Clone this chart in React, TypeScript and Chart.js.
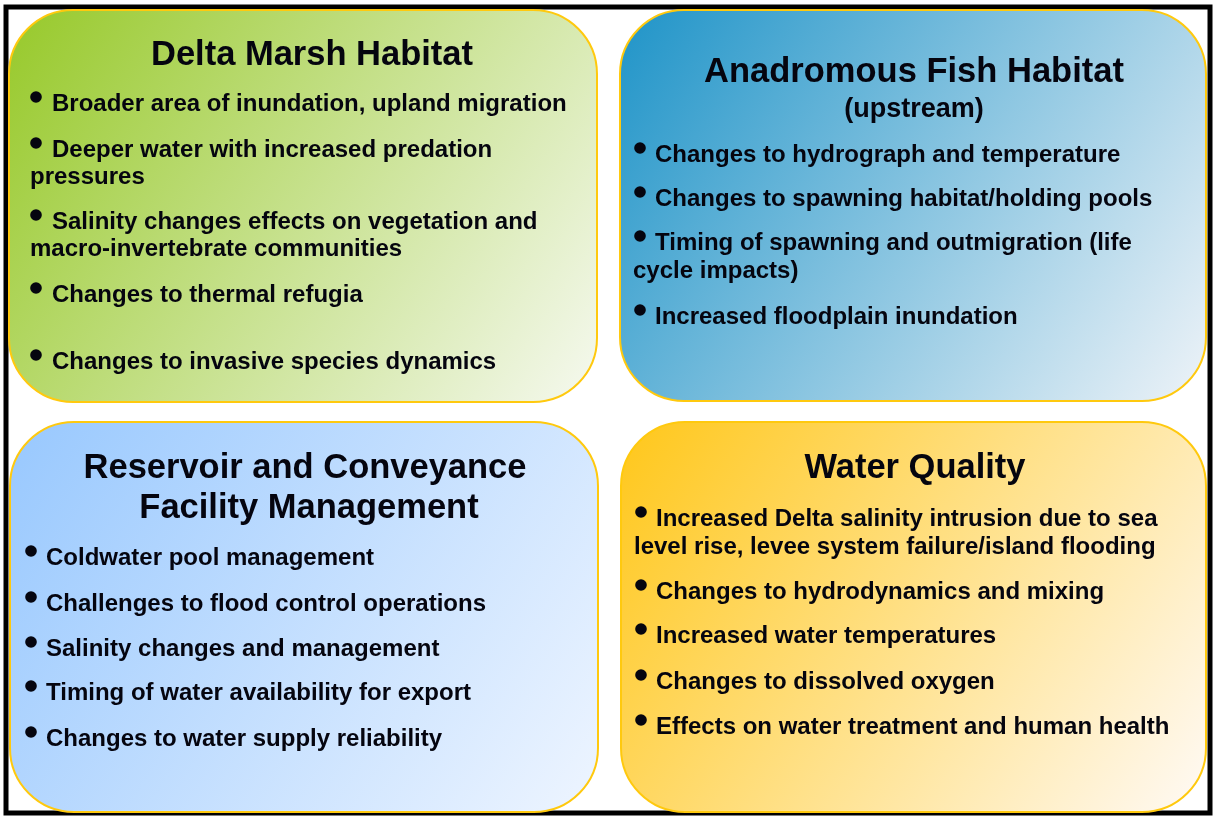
import { useEffect, useRef } from "react";
import { Chart, registerables } from "chart.js";
Chart.register(...registerables);

const W = 1214;
const H = 816;

const panelTitles: string[][] = [
  ["Delta Marsh Habitat"],
  ["Anadromous Fish Habitat"],
  ["Reservoir and Conveyance", "Facility Management"],
  ["Water Quality"],
];
const panelSubtitles: string[] = ["", "(upstream)", "", ""];

const deltaMarshBullets: string[][] = [
  ["Broader area of inundation, upland migration"],
  ["Deeper water with increased predation", "pressures"],
  ["Salinity changes effects on vegetation and", "macro-invertebrate communities"],
  ["Changes to thermal refugia"],
  ["Changes to invasive species dynamics"],
];
const anadromousFishBullets: string[][] = [
  ["Changes to hydrograph and temperature"],
  ["Changes to spawning habitat/holding pools"],
  ["Timing of spawning and outmigration (life", "cycle impacts)"],
  ["Increased floodplain inundation"],
];
const reservoirBullets: string[][] = [
  ["Coldwater pool management"],
  ["Challenges to flood control operations"],
  ["Salinity changes and management"],
  ["Timing of water availability for export"],
  ["Changes to water supply reliability"],
];
const waterQualityBullets: string[][] = [
  ["Increased Delta salinity intrusion due to sea", "level rise, levee system failure/island flooding"],
  ["Changes to hydrodynamics and mixing"],
  ["Increased water temperatures"],
  ["Changes to dissolved oxygen"],
  ["Effects on water treatment and human health"],
];
const panelBullets = [deltaMarshBullets, anadromousFishBullets, reservoirBullets, waterQualityBullets];

// layout (positions/styles), in a 0..W / 0..H coordinate space mapped through the chart scales
const panelLayout = [
  { x0: 9, y0: 10, x1: 597, y1: 402, c0: "#97c92a", c1: "#f6f9f0", titleX: [312], titleY: [53], subY: 0,
    bulletX: 36, textX: 52, wrapX: 30, lineY: [[102], [148, 175], [220, 247], [293], [360]] },
  { x0: 620, y0: 10, x1: 1206, y1: 401, c0: "#1f94c8", c1: "#eef3f8", titleX: [914], titleY: [70], subY: 108,
    bulletX: 640, textX: 655, wrapX: 633, lineY: [[153], [197], [241, 269], [315]] },
  { x0: 10, y0: 422, x1: 598, y1: 812, c0: "#98c8fe", c1: "#eef5ff", titleX: [305, 309], titleY: [466, 506], subY: 0,
    bulletX: 31, textX: 46, wrapX: 24, lineY: [[556], [602], [647], [691], [737]] },
  { x0: 621, y0: 422, x1: 1206, y1: 812, c0: "#ffc71a", c1: "#fffaf6", titleX: [915], titleY: [466], subY: 0,
    bulletX: 641, textX: 656, wrapX: 634, lineY: [[517, 545], [590], [634], [680], [725]] },
];

const FONT = '"Liberation Sans", Arial, Helvetica, sans-serif';
const TEXT_COLOR = "#05050f";

const panelPlugin = {
  id: "panels",
  afterDraw(chart: any) {
    const ctx: CanvasRenderingContext2D = chart.ctx;
    const xs = chart.scales.x;
    const ys = chart.scales.y;
    const px = (v: number) => xs.getPixelForValue(v);
    const py = (v: number) => ys.getPixelForValue(v);

    ctx.save();
    ctx.fillStyle = "#ffffff";
    ctx.fillRect(0, 0, chart.width, chart.height);
    // outer frame
    ctx.strokeStyle = "#000000";
    ctx.lineWidth = 5;
    ctx.strokeRect(px(6), py(7), px(1210) - px(6), py(813) - py(7));

    panelLayout.forEach((L, i) => {
      const x0 = px(L.x0), y0 = py(L.y0), x1 = px(L.x1), y1 = py(L.y1);
      const r = 64;
      const g = ctx.createLinearGradient(x0, y0, x1, y1);
      g.addColorStop(0, L.c0);
      g.addColorStop(1, L.c1);
      ctx.beginPath();
      ctx.roundRect(x0, y0, x1 - x0, y1 - y0, r);
      ctx.fillStyle = g;
      ctx.fill();
      ctx.lineWidth = 2;
      ctx.strokeStyle = "#ffc90e";
      ctx.stroke();

      ctx.fillStyle = TEXT_COLOR;
      ctx.textAlign = "center";
      ctx.textBaseline = "alphabetic";
      ctx.font = `bold 34.5px ${FONT}`;
      panelTitles[i].forEach((t, k) => {
        ctx.fillText(t, px(L.titleX[k]), py(L.titleY[k]) + 12);
      });
      if (panelSubtitles[i]) {
        ctx.font = `bold 27px ${FONT}`;
        ctx.fillText(panelSubtitles[i], px(L.titleX[0]), py(L.subY) + 9);
      }

      ctx.textAlign = "left";
      ctx.font = `bold 24px ${FONT}`;
      panelBullets[i].forEach((lines, b) => {
        const ys2 = L.lineY[b];
        lines.forEach((t, k) => {
          const y = py(ys2[k]);
          if (k === 0) {
            ctx.beginPath();
            ctx.arc(px(L.bulletX), y - 5, 5.8, 0, Math.PI * 2);
            ctx.fill();
            ctx.fillText(t, px(L.textX), y + 8.5);
          } else {
            ctx.fillText(t, px(L.wrapX), y + 8.5);
          }
        });
      });
    });
    ctx.restore();
  },
};

export default function App() {
  const ref = useRef<HTMLCanvasElement | null>(null);
  useEffect(() => {
    document.body.style.margin = "0";
    if (!ref.current) return;
    const chart = new Chart(ref.current, {
      type: "scatter",
      data: { datasets: [] },
      options: {
        animation: false,
        responsive: false,
        devicePixelRatio: 1,
        layout: { padding: 0 },
        plugins: { legend: { display: false }, tooltip: { enabled: false }, title: { display: false } },
        scales: {
          x: { type: "linear", min: 0, max: W, display: false },
          y: { type: "linear", min: 0, max: H, reverse: true, display: false },
        },
      },
      plugins: [panelPlugin],
    });
    return () => chart.destroy();
  }, []);
  return (
    <div style={{ width: W, height: H }}>
      <canvas ref={ref} width={W} height={H} style={{ display: "block", width: W, height: H }} />
    </div>
  );
}
